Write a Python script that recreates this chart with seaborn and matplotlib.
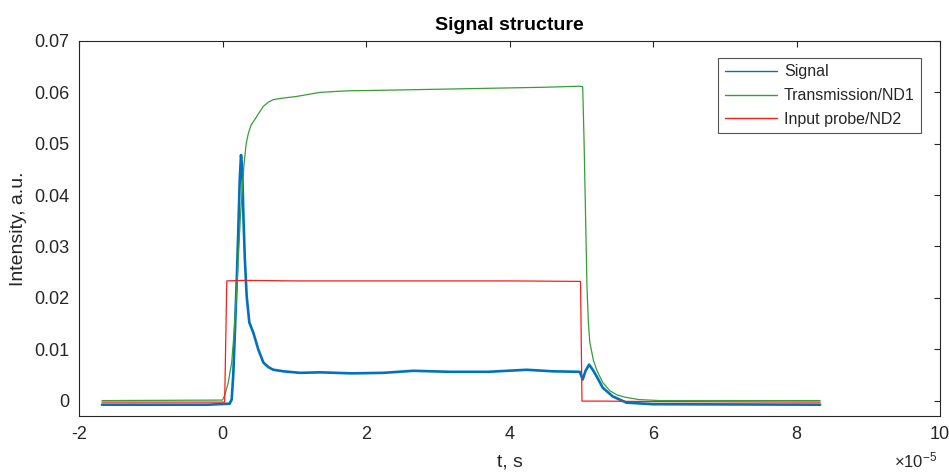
import numpy as np
import pandas as pd
import matplotlib
matplotlib.use("Agg")
import matplotlib.pyplot as plt
from matplotlib.ticker import FuncFormatter
import seaborn as sns

# time axis is in units of 1e-5 s (matlab style multiplier on the axis)
red_t = [-1.68, 0.03, 0.06, 0.3, 1.0, 2.0, 3.0, 4.0, 4.99, 5.01, 5.3, 6.0, 8.33]
red_v = [-0.0003, -0.0003, 0.0233, 0.0234, 0.0233, 0.0233, 0.0233, 0.0233, 0.0232,
         -0.0001, -0.0001, -0.0002, -0.0003]

green_t = [-1.68, 0.0, 0.035, 0.08, 0.128, 0.16, 0.2, 0.25, 0.3, 0.33, 0.36, 0.4,
           0.45, 0.5, 0.57, 0.64, 0.71, 0.85, 1.03, 1.36, 1.73, 2.2, 3.35, 4.5, 4.98,
           5.02, 5.04, 5.06, 5.08, 5.1, 5.12, 5.17, 5.22, 5.3, 5.4, 5.5, 5.6, 5.8,
           6.1, 8.33]
green_v = [0.0, 0.0001, 0.0012, 0.0035, 0.0074, 0.013, 0.022, 0.036, 0.046, 0.050,
           0.052, 0.0537, 0.0547, 0.0558, 0.0573, 0.0581, 0.0586, 0.0589, 0.0592,
           0.0600, 0.0603, 0.0604, 0.0607, 0.0610, 0.0612,
           0.0611, 0.050, 0.036, 0.022, 0.015, 0.0113, 0.0078, 0.0058, 0.0035,
           0.0019, 0.0011, 0.0007, 0.0002, 0.0, 0.0]

blue_t = [-1.68, -0.2, 0.1, 0.128, 0.15, 0.174, 0.2, 0.22, 0.24, 0.258, 0.275, 0.29,
          0.31, 0.337, 0.374, 0.43, 0.5, 0.57, 0.64, 0.71, 0.85, 1.08, 1.36, 1.8,
          2.24, 2.66, 3.17, 3.7, 4.24, 4.6, 4.98, 5.02, 5.06, 5.11, 5.16, 5.215,
          5.3, 5.44, 5.63, 6.0, 8.33]
blue_v = [-0.0008, -0.0008, -0.0006, 0.0002, 0.005, 0.0138, 0.024, 0.033, 0.043,
          0.0478, 0.045, 0.0366, 0.028, 0.0203, 0.0152, 0.0132, 0.0099, 0.0074,
          0.0065, 0.006, 0.0057, 0.0054, 0.0055, 0.0053, 0.0054, 0.0058, 0.0056,
          0.0056, 0.006, 0.0057, 0.0056, 0.0041, 0.0058, 0.007, 0.006, 0.0047,
          0.0025, 0.0008, -0.0004, -0.0007, -0.0008]

x_ticks = [-2, 0, 2, 4, 6, 8, 10]
y_ticks = [0, 0.01, 0.02, 0.03, 0.04, 0.05, 0.06, 0.07]

sns.set_theme(style="white")
plt.rcParams['font.family'] = ['Liberation Sans', 'DejaVu Sans']
plt.rcParams['mathtext.fontset'] = 'custom'
plt.rcParams['mathtext.rm'] = 'Liberation Sans'
plt.rcParams['axes.unicode_minus'] = False

dark = '#262626'
fig = plt.figure(figsize=(9.49, 4.73), dpi=100)
ax = fig.add_axes([79 / 949, 1 - 416 / 473, 861 / 949, 375 / 473])

sns.lineplot(x=blue_t, y=blue_v, ax=ax, color='#0072BD', lw=1.9,
             estimator=None, sort=False, label='Signal')
sns.lineplot(x=green_t, y=green_v, ax=ax, color='#34a034', lw=0.9,
             estimator=None, sort=False, label='Transmission/ND1')
sns.lineplot(x=red_t, y=red_v, ax=ax, color='#ff1a1a', lw=0.9,
             estimator=None, sort=False, label='Input probe/ND2')

ax.set_xlim(-2, 10)
ax.set_ylim(-0.003, 0.07)
ax.set_xticks(x_ticks)
ax.set_yticks(y_ticks)
ax.yaxis.set_major_formatter(FuncFormatter(lambda v, p: '%g' % round(v, 3)))
ax.tick_params(direction='in', length=4, width=0.8, colors=dark, labelsize=13,
               top=True, right=True, pad=7)
for s in ax.spines.values():
    s.set_color(dark)
    s.set_linewidth(0.8)

ax.set_title('Signal structure', fontsize=14, fontweight='bold', color='black', pad=8)
ax.set_xlabel('t, s', fontsize=14, color=dark, labelpad=8)
ax.set_ylabel('Intensity, a.u.', fontsize=14, color=dark, labelpad=5)
ax.text(0.997, -0.093, r'$\times\mathregular{10^{-5}}$', transform=ax.transAxes,
        ha='right', va='top', fontsize=12, color=dark)

leg = ax.legend(loc='upper right', fontsize=11.5, frameon=True, fancybox=False,
                edgecolor=dark, handlelength=3.3, handletextpad=0.4,
                borderpad=0.4, labelspacing=0.55, borderaxespad=0,
                bbox_to_anchor=(1 - 19 / 861, 1 - 17 / 375))
leg.get_frame().set_linewidth(0.8)
for line in leg.get_lines():
    line.set_linewidth(1.0)

fig.savefig('out.png', dpi=100)
